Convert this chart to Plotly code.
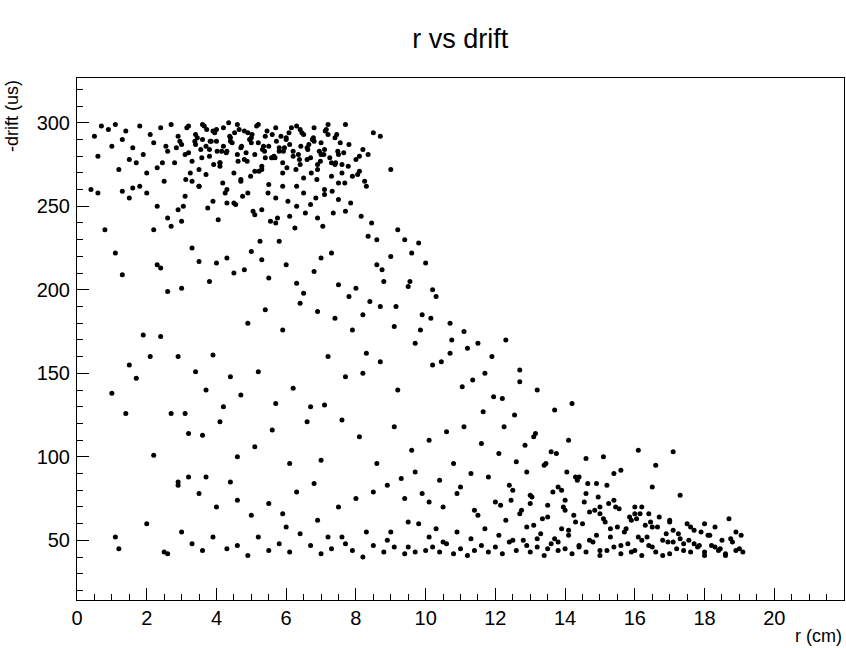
import plotly.graph_objects as go

# points (r in cm, -drift in us), grouped by region
top_r = [0.4, 0.5, 0.6, 0.7, 0.9, 1.0, 1.1, 1.2, 1.3, 1.4, 1.5, 1.6, 1.7, 1.8, 1.9, 2.0, 2.1, 2.2, 2.3, 2.4,
         2.5, 2.6, 2.7, 2.8, 2.9, 3.0, 3.1, 3.2, 3.3, 3.4, 3.5, 3.6, 3.7, 3.8, 3.9, 4.0, 4.1, 4.2, 4.3, 4.4,
         4.5, 4.6, 4.7, 4.8, 4.9, 5.0, 5.1, 5.2, 5.3, 5.4, 5.5, 5.6, 5.7, 5.8, 5.9, 6.0, 6.1, 6.2, 6.3, 6.4,
         6.5, 6.6, 6.7, 6.8, 6.9, 7.0, 7.1, 7.2, 7.3, 7.4, 7.5, 7.6, 7.7, 7.8, 8.0, 8.2, 8.5, 8.7,
         1.3, 1.6, 2.0, 2.3, 2.6, 2.9, 3.1, 3.3, 3.5, 3.7, 3.9, 4.1, 4.3, 4.5, 4.7, 4.9, 5.1, 5.3, 5.5, 5.7,
         5.9, 6.1, 6.3, 6.5, 6.7, 6.9, 7.1, 7.3, 7.5, 7.7, 7.9, 8.1, 3.2, 3.6, 4.0, 4.4, 4.8, 5.2, 5.6, 6.0,
         6.4, 6.8, 7.2, 7.6, 3.4, 3.8, 4.2, 4.6, 5.0, 5.4, 5.8, 6.2, 6.6, 7.0, 7.4, 2.7, 3.0, 4.05, 4.55,
         5.05, 5.55, 6.05, 6.55, 7.05, 5.25, 5.75, 6.25, 4.25, 4.75, 3.75, 6.85, 7.35, 7.85, 8.3, 8.6, 9.0]
top_d = [260, 292, 280, 298, 296, 286, 299, 272, 290, 295, 278, 285, 276, 298, 281, 270, 293, 288, 273, 297,
         265, 283, 299, 276, 292, 287, 281, 298, 277, 293, 272, 299, 286, 280, 295, 289, 276, 297, 283, 291,
         270, 299, 285, 278, 294, 288, 281, 299, 274, 292, 286, 279, 297, 283, 276, 291, 287, 280, 298, 275,
         293, 285, 279, 297, 272, 288, 284, 299, 276, 291, 281, 270, 299, 287, 278, 284, 294, 292,
         259, 261, 258, 250, 243, 248, 256, 265, 262, 269, 253, 274, 260, 252, 266, 258, 271, 248, 263, 255,
         270, 244, 262, 258, 251, 275, 260, 268, 264, 247, 268, 271, 282, 290, 296, 289, 295, 288, 293, 290,
         296, 289, 293, 275, 287, 284, 286, 281, 291, 279, 285, 283, 278, 281, 275, 238, 241, 242, 251,
         247, 241, 253, 246, 238, 229, 243, 237, 258, 256, 249, 255, 246, 252, 262, 230, 272, 250]

# extra points in the dense upper band
dense_r = [3.05, 3.15, 3.45, 3.55, 3.65, 3.85, 3.95, 4.15, 4.35, 4.45, 4.65, 4.85, 4.95, 5.15, 5.35, 5.45,
           5.65, 5.85, 5.95, 6.15, 6.35, 6.45, 6.65, 6.75, 6.95, 7.15, 7.25, 7.45, 7.55, 7.65, 2.45, 2.85,
           3.25, 3.58, 3.92, 4.28, 4.62, 4.98, 5.32, 5.68, 6.02, 6.38, 6.72, 7.08, 7.42, 7.78, 8.05, 8.25,
           4.1, 4.7, 5.3, 5.9, 6.5, 7.1, 3.5, 4.3, 5.1, 5.7, 6.3, 6.9, 7.5, 8.15, 8.45, 2.2, 1.8, 1.5,
           3.12, 3.38, 3.72, 4.02, 4.38, 4.72, 5.02, 5.38, 5.72, 6.08, 6.42, 6.78, 7.12, 7.48, 2.55, 2.95,
           4.52, 4.88, 5.22, 5.58, 5.92, 6.28, 6.62, 6.98, 3.82, 4.18, 5.48, 6.88, 7.32, 7.68, 8.35, 8.1]
dense_d = [297, 291, 284, 298, 289, 294, 283, 300, 288, 296, 282, 290, 298, 286, 295, 280,
           292, 285, 297, 281, 294, 287, 290, 283, 296, 279, 293, 288, 282, 276, 285, 270,
           279, 275, 282, 277, 268, 284, 279, 273, 278, 270, 281, 276, 274, 269, 265, 276,
           265, 272, 262, 267, 257, 262, 252, 245, 240, 250, 243, 254, 244, 240, 236, 262, 255, 266,
           289, 296, 283, 292, 286, 293, 283, 289, 294, 286, 291, 295, 283, 286, 289, 294,
           277, 271, 279, 283, 272, 284, 277, 289, 264, 258, 266, 259, 264, 281, 280, 258]

mid_r = [0.6, 0.8, 1.1, 1.5, 1.7, 2.3, 2.4, 2.6, 3.0, 3.3, 3.5, 3.8, 4.0, 4.3, 4.5, 4.8, 5.0, 5.3, 5.5, 5.8,
         6.0, 6.3, 6.5, 6.8, 7.0, 7.3, 7.5, 7.8, 8.0, 8.2, 8.4, 8.6, 8.8, 9.0, 9.2, 9.4, 9.6, 9.8, 10.0, 10.2,
         1.3, 1.9, 2.4, 2.9, 3.4, 3.9, 4.4, 4.9, 5.4, 5.9, 6.4, 6.9, 7.4, 7.9, 8.3, 8.7, 9.1, 9.5, 9.9, 10.3,
         10.7, 11.1, 11.5, 11.9, 12.3, 12.7, 2.1, 2.7, 3.2, 3.7, 4.2, 4.7, 5.2, 5.7, 6.2, 6.7, 7.2, 7.7, 8.2,
         8.7, 9.2, 9.7, 10.2, 10.7, 11.2, 11.7, 12.2, 12.7, 13.2, 13.7, 14.2, 1.0, 1.4, 2.2, 3.1, 3.6, 4.1,
         4.6, 5.1, 5.6, 6.1, 6.6, 7.1, 7.6, 8.1, 8.6, 9.1, 9.6, 10.1, 10.6, 11.1, 11.6, 12.1, 12.6, 13.1,
         13.6, 14.1, 14.6, 15.1, 15.6, 16.1, 16.6, 17.1, 9.3, 9.7, 10.4, 10.8, 11.3, 11.8, 12.4, 12.9, 13.4,
         13.9, 14.4, 14.9, 15.4, 8.5, 8.9, 9.4, 9.9, 10.5, 11.0, 11.4, 12.0, 12.5, 13.0, 13.5, 14.0, 15.0,
         16.0, 16.5, 17.3, 7.0, 7.5, 8.0, 6.3, 6.8, 5.5, 5.9, 4.6, 3.7, 2.9, 9.5, 10.1, 10.9,
         8.35, 8.75, 9.15, 9.55, 9.85, 10.15, 10.45, 10.75, 11.05, 11.35, 11.65, 11.95, 12.25, 12.55,
         12.85, 13.15, 13.45, 13.75, 14.05, 14.35, 14.65, 14.95, 15.25, 15.55, 15.85, 16.15, 16.45]
mid_d = [236, 222, 155, 147, 215, 213, 199, 201, 225, 217, 205, 216, 219, 210, 212, 223, 218, 207, 229, 215,
         204, 198, 211, 219, 222, 203, 196, 201, 185, 193, 215, 205, 220, 236, 230, 222, 228, 216, 200, 209,
         173, 172, 160, 151, 161, 148, 180, 188, 176, 192, 187, 183, 176, 162, 190, 178, 202, 185, 196, 180,
         175, 168, 160, 170, 152, 160, 126, 114, 140, 130, 137, 151, 132, 141, 130, 160, 148, 150, 157,
         140, 168, 155, 162, 165, 150, 135, 145, 140, 128, 132, 138, 126, 101, 126, 113, 121, 100,
         106, 116, 96, 121, 131, 122, 112, 96, 118, 104, 110, 115, 118, 108, 102, 97, 112, 103,
         110, 99, 100, 92, 104, 95, 103, 87, 91, 86, 96, 90, 88, 83, 91, 95, 80,
         88, 84, 90, 79, 83, 75, 78, 70, 82, 68, 73, 80, 77, 71, 74, 66, 70, 82,
         77, 98, 70, 75, 79, 84, 72, 66, 74, 88, 85, 61, 73, 78,
         232, 212, 190, 205, 176, 183, 157, 170, 142, 146, 127, 136, 118, 125,
         107, 114, 96, 102, 91, 86, 84, 76, 72, 69, 64, 66, 61]

bot_r = [1.1, 1.2, 2.0, 2.5, 2.6, 3.0, 3.3, 3.6, 3.9, 4.3, 4.6, 4.9, 5.2, 5.5, 5.8, 6.1, 6.4, 6.7, 7.0, 7.3,
         7.6, 7.9, 8.2, 8.5, 8.8, 9.1, 9.4, 9.7, 10.0, 10.2, 10.4, 10.6, 10.8, 11.0, 11.2, 11.4, 11.6, 11.8,
         12.0, 12.2, 12.4, 12.6, 12.8, 13.0, 13.2, 13.4, 13.6, 13.8, 14.0, 14.2, 14.4, 14.6, 14.8, 15.0, 15.2,
         15.4, 15.6, 15.8, 16.0, 16.2, 16.4, 16.6, 16.8, 17.0, 17.2, 17.4, 17.6, 17.8, 18.0, 18.2, 18.4, 18.6,
         18.8, 19.0, 19.1, 10.1, 10.5, 10.9, 11.3, 11.7, 12.1, 12.5, 12.9, 13.3, 13.7, 14.1, 14.5, 14.9, 15.3,
         15.7, 16.1, 16.5, 16.9, 17.3, 17.7, 18.1, 18.5, 18.9, 12.3, 12.7, 13.1, 13.5, 13.9, 14.3, 14.7, 15.1,
         15.5, 15.9, 16.3, 16.7, 17.1, 17.5, 17.9, 18.3, 18.7, 19.05, 11.5, 13.0, 14.0, 15.0, 16.0, 17.0, 18.0,
         7.2, 7.7, 8.3, 8.9, 9.5, 6.9, 6.0, 5.0, 4.0, 3.5, 2.9, 3.2, 4.4, 9.0, 9.8, 10.3,
         12.15, 12.45, 12.75, 13.05, 13.35, 13.65, 13.95, 14.25, 14.55, 14.85, 15.15, 15.45, 15.75, 16.05,
         16.35, 16.65, 16.95, 17.25, 17.55, 17.85, 18.15, 18.45, 18.75, 13.8, 14.6, 15.4, 16.2, 17.0,
         12.9, 13.2, 13.5, 13.8, 14.1, 14.4, 14.7, 15.0, 15.3, 15.6, 15.9, 16.2, 16.5, 16.8, 17.1,
         17.4, 17.7, 18.0, 18.3, 18.6, 18.9, 14.3, 15.2, 16.4, 17.6]
bot_d = [52, 45, 60, 43, 42, 55, 48, 44, 52, 45, 47, 41, 52, 44, 48, 43, 54, 47, 42, 45,
         52, 44, 40, 47, 43, 46, 42, 43, 44, 46, 43, 48, 42, 45, 41, 44, 47, 43,
         46, 42, 49, 44, 50, 43, 46, 41, 48, 44, 45, 42, 47, 43, 49, 41, 44,
         46, 42, 48, 44, 41, 47, 43, 50, 42, 45, 48, 43, 46, 41, 47, 44, 42,
         49, 45, 43, 52, 49, 55, 51, 57, 53, 50, 58, 54, 51, 56, 60, 53, 57,
         55, 52, 58, 54, 51, 56, 53, 50, 55, 62, 66, 59, 64, 57, 61, 67, 63,
         58, 62, 59, 64, 56, 60, 55, 58, 63, 53, 65, 72, 68, 70, 66, 62, 60,
         52, 48, 55, 50, 46, 62, 58, 65, 70, 78, 83, 88, 85, 55, 60, 57,
         71, 74, 68, 76, 63, 79, 70, 65, 73, 68, 61, 70, 57, 63,
         52, 58, 49, 54, 50, 47, 53, 45, 51, 82, 78, 74, 70, 61,
         47, 51, 45, 49, 53, 46, 50, 44, 52, 47, 43, 50, 46, 41, 49,
         44, 48, 43, 46, 41, 44, 88, 83, 66, 58]

r_all = top_r + dense_r + mid_r + bot_r
d_all = top_d + dense_d + mid_d + bot_d

fig = go.Figure(go.Scatter(
    x=r_all, y=d_all, mode="markers",
    marker=dict(color="black", size=5),
    hoverinfo="skip",
))

axis_common = dict(
    showgrid=False, zeroline=False, showline=True, linecolor="black", linewidth=1, mirror=True,
    ticks="inside", ticklen=12, tickcolor="black",
    minor=dict(ticks="inside", ticklen=6, tickcolor="black"),
    tickfont=dict(size=20, color="black"),
)
fig.update_xaxes(range=[0, 22], dtick=2, minor_dtick=0.5, **axis_common)
fig.update_yaxes(range=[14.3, 326.8], dtick=50, minor_dtick=10, ticklabelstandoff=2, **axis_common)

fig.update_layout(
    width=846, height=648,
    paper_bgcolor="white", plot_bgcolor="white",
    font=dict(family="Liberation Sans, Arial, sans-serif", color="black"),
    margin=dict(l=77, r=2, t=78, b=48, autoexpand=False),
    showlegend=False,
    title=dict(text="r vs drift", x=0.544, xanchor="center", y=0.94, yanchor="middle",
               font=dict(size=27)),
    annotations=[
        dict(text="r (cm)", xref="paper", yref="paper", x=1, y=0, xanchor="right", yanchor="top",
             yshift=-24, showarrow=False, font=dict(size=18)),
        dict(text="-drift (us)", xref="paper", yref="paper", x=0, y=1, xanchor="right", yanchor="top",
             xshift=-53, textangle=-90, showarrow=False, font=dict(size=18)),
    ],
)

fig.write_html("out.html", config={"displayModeBar": False},
               post_script="document.body.style.margin='0';document.body.style.overflow='hidden';")
